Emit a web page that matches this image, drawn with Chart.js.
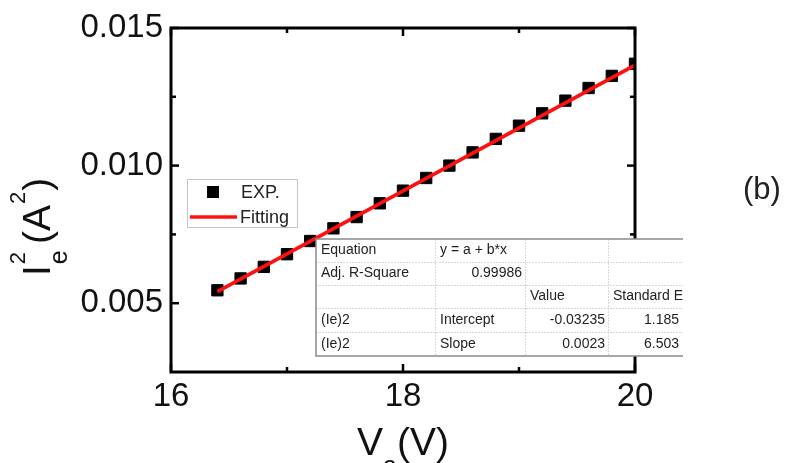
<!DOCTYPE html>
<html>
<head>
<meta charset="utf-8">
<script src="https://cdn.jsdelivr.net/npm/chart.js@4"></script>
<style>
  html, body { margin: 0; padding: 0; background: #fff; }
  canvas { display: block; }
</style>
</head>
<body>
<canvas id="chart" width="790" height="463"></canvas>
<script>
// Ie^2 vs Va with linear fit (b)
var voltage = [16.4, 16.6, 16.8, 17.0, 17.2, 17.4, 17.6, 17.8, 18.0, 18.2, 18.4, 18.6, 18.8, 19.0, 19.2, 19.4, 19.6, 19.8, 20.0];
var currentSq = [0.00547, 0.00590, 0.00632, 0.00678, 0.00726, 0.00772, 0.00813, 0.00863, 0.00909, 0.00955, 0.01000, 0.01048, 0.01097, 0.01145, 0.01190, 0.01236, 0.01282, 0.01326, 0.01370];
var fitX = [16.4, 20.0];
var fitY = [0.00542, 0.01365];

var xMajor = [16, 18, 20];
var xMinor = [17, 19];
var yMajor = [0.005, 0.010, 0.015];
var yMinor = [0.0075, 0.0125];

var legendLabels = ['EXP.', 'Fitting'];

var tableRows = [
  ['Equation', 'y = a + b*x', '', ''],
  ['Adj. R-Square', '0.99986', '', ''],
  ['', '', 'Value', 'Standard E'],
  ['(Ie)2', 'Intercept', '-0.03235', '1.185'],
  ['(Ie)2', 'Slope', '0.0023', '6.503']
];
var tableAlign = [
  ['left', 'left', 'left', 'left'],
  ['left', 'right', 'left', 'left'],
  ['left', 'left', 'left', 'left'],
  ['left', 'left', 'right', 'right'],
  ['left', 'left', 'right', 'right']
];

var FONT = '"Liberation Sans", Arial, sans-serif';

function pts(xs, ys) {
  return xs.map(function (x, i) { return { x: x, y: ys[i] }; });
}

var decorPlugin = {
  id: 'decor',
  afterDatasetsDraw: function (chart) {
    var ctx = chart.ctx;
    var a = chart.chartArea;
    var sx = chart.scales.x, sy = chart.scales.y;

    // frame + inward ticks
    ctx.save();
    ctx.strokeStyle = '#000';
    ctx.lineWidth = 3;
    ctx.strokeRect(a.left, a.top, a.right - a.left, a.bottom - a.top);
    ctx.lineWidth = 2.5;
    function tick(x1, y1, x2, y2) { ctx.beginPath(); ctx.moveTo(x1, y1); ctx.lineTo(x2, y2); ctx.stroke(); }
    xMajor.forEach(function (v) { var p = sx.getPixelForValue(v); tick(p, a.bottom, p, a.bottom - 8); tick(p, a.top, p, a.top + 8); });
    xMinor.forEach(function (v) { var p = sx.getPixelForValue(v); tick(p, a.bottom, p, a.bottom - 5); tick(p, a.top, p, a.top + 5); });
    yMajor.forEach(function (v) { var p = sy.getPixelForValue(v); tick(a.left, p, a.left + 8, p); tick(a.right, p, a.right - 8, p); });
    yMinor.forEach(function (v) { var p = sy.getPixelForValue(v); tick(a.left, p, a.left + 5, p); tick(a.right, p, a.right - 5, p); });
    ctx.restore();

    // legend
    ctx.save();
    ctx.strokeStyle = '#c4c4c4';
    ctx.lineWidth = 1;
    ctx.strokeRect(187.5, 179.5, 110, 48);
    ctx.fillStyle = '#000';
    ctx.fillRect(207, 186, 12, 12);
    ctx.strokeStyle = '#ff1010';
    ctx.lineWidth = 3.5;
    ctx.beginPath(); ctx.moveTo(190, 217); ctx.lineTo(237, 217); ctx.stroke();
    ctx.fillStyle = '#222';
    ctx.font = '18px ' + FONT;
    ctx.textBaseline = 'middle';
    ctx.fillText(legendLabels[0], 241, 193);
    ctx.fillText(legendLabels[1], 240, 218);
    ctx.restore();

    // fit result table
    var cols = [316, 435, 525, 608, 682];
    var rows = [239, 262, 285, 308, 332, 356];
    ctx.save();
    ctx.beginPath(); ctx.rect(0, 0, 683, 463); ctx.clip();
    ctx.fillStyle = '#fff';
    ctx.fillRect(cols[0], rows[0], 700 - cols[0], rows[5] - rows[0]);
    ctx.strokeStyle = '#d8d8d8';
    ctx.lineWidth = 1;
    ctx.setLineDash([2, 1]);
    for (var r = 1; r < 5; r++) { ctx.beginPath(); ctx.moveTo(cols[0], rows[r] + 0.5); ctx.lineTo(700, rows[r] + 0.5); ctx.stroke(); }
    for (var c = 1; c < 4; c++) { ctx.beginPath(); ctx.moveTo(cols[c] + 0.5, rows[0]); ctx.lineTo(cols[c] + 0.5, rows[5]); ctx.stroke(); }
    ctx.setLineDash([]);
    ctx.strokeStyle = '#8a8a8a';
    ctx.lineWidth = 1.5;
    ctx.beginPath();
    ctx.moveTo(700, rows[0]); ctx.lineTo(cols[0], rows[0]); ctx.lineTo(cols[0], rows[5]); ctx.lineTo(700, rows[5]);
    ctx.stroke();
    ctx.fillStyle = '#222';
    ctx.font = '14px ' + FONT;
    ctx.textBaseline = 'middle';
    tableRows.forEach(function (row, ri) {
      var yc = (rows[ri] + rows[ri + 1]) / 2;
      row.forEach(function (txt, ci) {
        if (!txt) return;
        var al = tableAlign[ri][ci];
        ctx.textAlign = al;
        var x = al === 'left' ? cols[ci] + 5 : cols[ci + 1] - 3;
        ctx.fillText(txt, x, yc);
      });
    });
    ctx.restore();

    // axis titles
    ctx.save();
    ctx.fillStyle = '#111';
    ctx.textBaseline = 'alphabetic';
    ctx.textAlign = 'left';
    var big = '39px ' + FONT, sub = '25px ' + FONT, sup = '22px ' + FONT;
    // x title: V_a(V)
    ctx.font = big;
    var wV = ctx.measureText('V').width;
    ctx.font = sub;
    var wa = ctx.measureText('a').width;
    ctx.font = big;
    var wRest = ctx.measureText('(V)').width;
    var x0 = sx.getPixelForValue(18) - (wV + wa + wRest) / 2;
    ctx.fillText('V', x0, 455);
    ctx.font = sub;
    ctx.fillText('a', x0 + wV, 474);
    ctx.font = big;
    ctx.fillText('(V)', x0 + wV + wa, 455);

    // y title: I_e^2 (A^2), rotated
    ctx.translate(50, 276);
    ctx.rotate(-Math.PI / 2);
    ctx.font = big;
    ctx.fillText('I', 0, 0);
    var p = ctx.measureText('I').width + 1;
    ctx.font = sub;
    ctx.fillText('e', p, 17);
    ctx.font = sup;
    ctx.fillText('2', p, -25);
    p += ctx.measureText('e').width + 8;
    ctx.font = big;
    ctx.fillText('(A', p, 0);
    p += ctx.measureText('(A').width + 1;
    ctx.font = sup;
    ctx.fillText('2', p, -25);
    p += ctx.measureText('2').width + 1;
    ctx.font = big;
    ctx.fillText(')', p, 0);
    ctx.restore();

    // panel label
    ctx.save();
    ctx.fillStyle = '#222';
    ctx.font = '31px ' + FONT;
    ctx.textBaseline = 'middle';
    ctx.fillText('(b)', 743, 190);
    ctx.restore();
  }
};

new Chart(document.getElementById('chart'), {
  type: 'scatter',
  data: {
    datasets: [
      {
        label: legendLabels[0],
        data: pts(voltage, currentSq),
        pointStyle: 'rect',
        pointRadius: 8,
        pointBackgroundColor: '#000',
        pointBorderColor: '#000',
        pointBorderWidth: 1,
        showLine: false,
        order: 2
      },
      {
        label: legendLabels[1],
        data: pts(fitX, fitY),
        showLine: true,
        borderColor: '#ff1010',
        borderWidth: 3.5,
        pointRadius: 0,
        order: 1
      }
    ]
  },
  options: {
    responsive: false,
    animation: false,
    layout: { padding: { left: 0, right: 155, top: 28, bottom: 0 } },
    plugins: { legend: { display: false }, tooltip: { enabled: false } },
    scales: {
      x: {
        type: 'linear',
        min: 16, max: 20,
        grid: { display: false, drawTicks: false },
        border: { display: false },
        afterBuildTicks: function (s) { s.ticks = xMajor.map(function (v) { return { value: v }; }); },
        afterFit: function (s) { s.height = 91; },
        ticks: {
          padding: 8,
          color: '#111',
          font: { family: FONT, size: 33, lineHeight: 1 },
          maxRotation: 0,
          callback: function (v) { return String(v); }
        }
      },
      y: {
        type: 'linear',
        min: 0.0025, max: 0.015,
        grid: { display: false, drawTicks: false },
        border: { display: false },
        afterBuildTicks: function (s) { s.ticks = yMajor.map(function (v) { return { value: v }; }); },
        afterFit: function (s) { s.width = 171; },
        ticks: {
          padding: 8,
          color: '#111',
          font: { family: FONT, size: 33, lineHeight: 1 },
          callback: function (v) { return v.toFixed(3); }
        }
      }
    }
  },
  plugins: [decorPlugin]
});
</script>
</body>
</html>
